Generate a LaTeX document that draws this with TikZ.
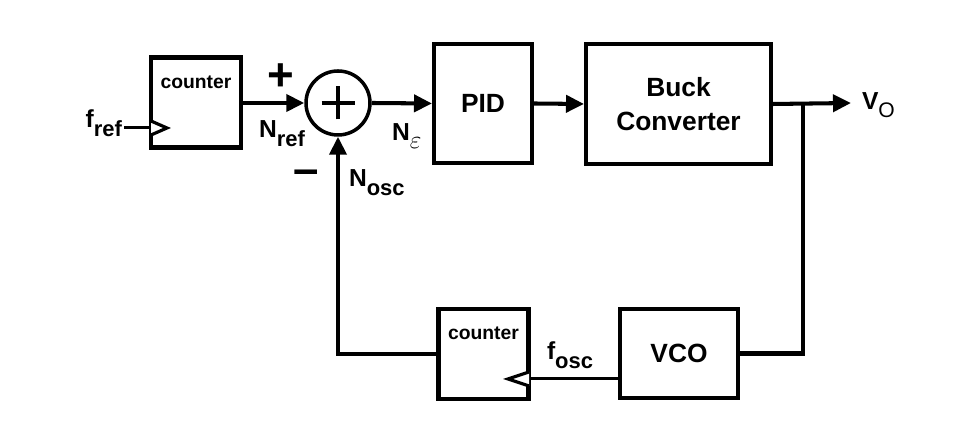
\documentclass[tikz,border=0pt]{standalone}
\usepackage{fontspec}
\setmainfont{Liberation Sans}
\usetikzlibrary{arrows.meta}

\newcommand{\sublbl}[2]{#1\raisebox{-5pt}{\fontsize{12.5}{13}\selectfont #2}}

\begin{document}
\begin{tikzpicture}[x=0.02cm, y=0.02cm, line width=2.3pt,
  >={Triangle[length=3.6mm, width=3.4mm]},
  font=\bfseries\fontsize{14}{16}\selectfont,
  block/.style={draw, line width=2.3pt, align=center, inner sep=0pt,
    font=\bfseries\fontsize{15}{19}\selectfont},
  cntbox/.style={draw, line width=2.3pt, minimum width=1.8cm, minimum height=1.8cm, inner sep=0pt},
  cnttxt/.style={anchor=north, inner sep=0pt, font=\bfseries\fontsize{11}{12}\selectfont},
  sum/.style={draw, circle, line width=2pt, minimum size=1.28cm, inner sep=0pt},
  clk/.style={draw, fill=white, line width=1.8pt, line join=miter},
  thin/.style={line width=1.7pt},
  lbl/.style={inner sep=0pt}]

\useasboundingbox (0,0) rectangle (974,438);

% ---------- blocks ----------
\node[cntbox] (cnt1) at (196,335.5) {};
\node[cnttxt] (cnt1txt) at ([yshift=-0.36cm]cnt1.north) {counter};
\node[sum] (sum) at (338,335) {};
\draw (sum.center) ++(-16.5,0) -- ++(33,0);
\draw (sum.center) ++(0,-16.5) -- ++(0,33);
\node[block, minimum width=1.96cm, minimum height=2.38cm] (pid)  at (483,334.5) {PID};
\node[block, minimum width=3.7cm,  minimum height=2.4cm]  (buck) at (678.5,334) {Buck\\Converter};
\node[block, minimum width=2.36cm, minimum height=1.78cm] (vco)  at (679,84.5) {VCO};
\node[cntbox] (cnt2) at (483.5,84) {};
\node[cnttxt] (cnt2txt) at ([yshift=-0.36cm]cnt2.north) {counter};

% ---------- clock inputs ----------
\coordinate (clk1) at (151,310);
\coordinate (clk2) at (529,59);
\node[lbl, anchor=base east] (fref) at (124,310) {\sublbl{f}{ref}};
\draw[thin] (fref.east |- clk1) -- (clk1);
\draw[clk] (151,317) -- (167,310) -- (151,303);
\draw[thin] (vco.west |- clk2) -- (clk2);
\draw[clk] (529,66) -- (508,59) -- (529,52);

% ---------- forward path ----------
\draw[->] (cnt1.east |- sum.west) -- (sum.west);
\draw[->] (sum.east) -- (pid.west);
\draw[->] (pid.east) -- (buck.west);
\coordinate (br) at (803,335);
\coordinate (vo) at (851,335);
\draw[->] (buck.east) -- (vo);
\node[lbl, anchor=base west] (vout) at (860,328) {V\raisebox{-4pt}{\fontsize{12}{12}\selectfont\mdseries$\mathrm{O}$}};

% ---------- feedback ----------
\draw (br) |- (vco.east);
\draw[->] (cnt2.west) -| (sum.south);

% ---------- signs and labels ----------
\node[lbl] (plus)  at (281,361) {\fontsize{26}{26}\selectfont +};
\node[lbl] (minus) at (306,261) {\fontsize{26}{26}\selectfont --};
\node[lbl, anchor=base west] (nref) at (257,300) {\sublbl{N}{ref}};
\node[lbl, anchor=base west] (neps) at (390,297) {N\raisebox{-4pt}{\mdseries$\varepsilon$}};
\node[lbl, anchor=base west] (nosc) at (347,251) {\sublbl{N}{osc}};
\node[lbl, anchor=base west] (fosc) at (545,78)  {\sublbl{f}{osc}};

\end{tikzpicture}
\end{document}
